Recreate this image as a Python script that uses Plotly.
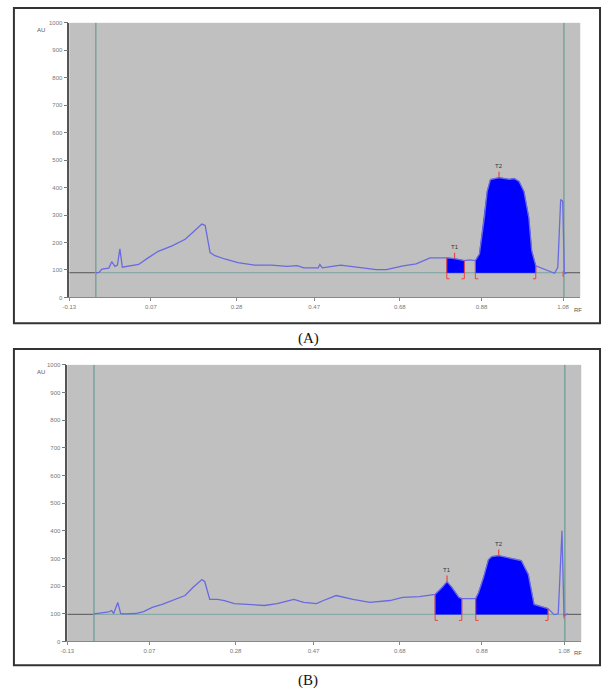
import plotly.graph_objects as go

W, H = 602, 696

# ---------------- data ----------------
# Panel A densitogram
rf_a = [-0.065, -0.057, -0.050, -0.040, -0.033, -0.026, -0.018, -0.012, -0.006, 0.000,
        0.008, 0.040, 0.064, 0.088, 0.122, 0.154, 0.171, 0.185, 0.195, 0.203,
        0.210, 0.215, 0.227, 0.251, 0.283, 0.324, 0.365, 0.404, 0.428, 0.445,
        0.480, 0.484, 0.490, 0.535, 0.574, 0.622, 0.647, 0.688, 0.720, 0.754,
        0.795, 0.814, 0.838, 0.851, 0.865, 0.875, 0.887, 0.894, 0.902, 0.923,
        0.948, 0.960, 0.972, 0.984, 0.996, 1.003, 1.013, 1.045, 1.059, 1.067,
        1.074, 1.079, 1.083, 1.090]
au_a = [90, 91, 103, 105, 107, 130, 113, 118, 177, 110,
        112, 120, 145, 168, 188, 212, 235, 255, 267, 262,
        200, 163, 152, 140, 127, 118, 118, 113, 116, 108,
        108, 120, 108, 118, 110, 101, 101, 115, 122, 144,
        144, 141, 134, 137, 134, 158, 290, 386, 429, 436,
        430, 433, 422, 386, 290, 170, 115, 97, 88, 110,
        357, 350, 87, 90]
base_a = 90
peaks_a = {"T1": (0.795, 0.838, 0.814), "T2": (0.865, 1.013, 0.923)}

# Panel B densitogram
rf_b = [-0.065, -0.055, -0.043, -0.029, -0.022, -0.017, -0.007, 0.000, 0.010, 0.036,
        0.056, 0.077, 0.101, 0.125, 0.157, 0.176, 0.198, 0.205, 0.217, 0.236,
        0.253, 0.277, 0.309, 0.350, 0.381, 0.422, 0.446, 0.477, 0.494, 0.525,
        0.566, 0.607, 0.656, 0.687, 0.728, 0.766, 0.783, 0.795, 0.807, 0.824,
        0.831, 0.865, 0.872, 0.884, 0.896, 0.904, 0.921, 0.952, 0.976, 0.993,
        1.000, 1.007, 1.041, 1.056, 1.066, 1.075, 1.080, 1.090]
au_b = [100, 102, 105, 107, 112, 101, 141, 101, 100, 101,
        108, 123, 134, 148, 166, 195, 224, 216, 152, 152,
        148, 137, 134, 130, 137, 152, 141, 137, 148, 166,
        152, 141, 148, 159, 162, 170, 195, 216, 195, 159,
        155, 155, 177, 231, 296, 307, 310, 300, 292, 242,
        188, 134, 119, 97, 100, 400, 94, 100]
base_b = 98
peaks_b = {"T1": (0.766, 0.831, 0.795), "T2": (0.865, 1.041, 0.921)}

x_ticks = [-0.13, 0.07, 0.28, 0.47, 0.68, 0.88, 1.08]
x_ticktext = ["-0.13", "0.07", "0.28", "0.47", "0.68", "0.88", "1.08"]
y_ticks = [0, 100, 200, 300, 400, 500, 600, 700, 800, 900, 1000]
start_line = -0.065
front_line = 1.082
x_range = [-0.13, 1.122]

# ---------------- style ----------------
CURVE = "rgb(105,105,225)"
FILL = "#0000FF"
TEAL = "rgb(125,165,158)"
RED = "rgb(235,70,60)"
TICKC = "#777777"

fig = go.Figure()

def px2paper_x(px):
    return px / W

def px2paper_y(py):
    return 1 - py / H

panels = [
    dict(rf=rf_a, au=au_a, base=base_a, peaks=peaks_a, xa="x", ya="y",
         xd=[63 / W, 580 / W], yd=[1 - 297 / H, 1 - 20 / H]),
    dict(rf=rf_b, au=au_b, base=base_b, peaks=peaks_b, xa="x2", ya="y2",
         xd=[61 / W, 581 / W], yd=[1 - 644 / H, 1 - 365 / H]),
]

shapes = []
annotations = []

for i, p in enumerate(panels):
    xa, ya = p["xa"], p["ya"]
    rf, au, base = p["rf"], p["au"], p["base"]
    # baseline: dark outside, teal between start and front
    fig.add_trace(go.Scatter(x=[x_range[0], start_line], y=[base, base], mode="lines",
                             line=dict(color="#555555", width=1), xaxis=xa, yaxis=ya,
                             showlegend=False, hoverinfo="skip"))
    fig.add_trace(go.Scatter(x=[start_line, front_line], y=[base, base], mode="lines",
                             line=dict(color=TEAL, width=1), xaxis=xa, yaxis=ya,
                             showlegend=False, hoverinfo="skip"))
    fig.add_trace(go.Scatter(x=[front_line, x_range[1]], y=[base, base], mode="lines",
                             line=dict(color="#555555", width=1), xaxis=xa, yaxis=ya,
                             showlegend=False, hoverinfo="skip"))
    # vertical lines (application / front)
    for xv in (start_line, front_line):
        fig.add_trace(go.Scatter(x=[xv, xv], y=[0, 1000], mode="lines",
                                 line=dict(color=TEAL, width=1.6), xaxis=xa, yaxis=ya,
                                 showlegend=False, hoverinfo="skip"))
    # filled peaks
    for name, (x0, x1, xp) in p["peaks"].items():
        xs = [x for x in rf if x0 - 1e-9 <= x <= x1 + 1e-9]
        ys = [au[rf.index(x)] for x in xs]
        fig.add_trace(go.Scatter(x=[x0] + xs + [x1, x0], y=[base] + ys + [base, base],
                                 mode="lines", fill="toself", fillcolor=FILL,
                                 line=dict(color=FILL, width=0.5), xaxis=xa, yaxis=ya,
                                 showlegend=False, hoverinfo="skip"))
    # curve
    fig.add_trace(go.Scatter(x=rf, y=au, mode="lines", line=dict(color=CURVE, width=1.3),
                             xaxis=xa, yaxis=ya, showlegend=False))
    # peak markers
    for name, (x0, x1, xp) in p["peaks"].items():
        ytop = au[rf.index(xp)]
        low = base - 22
        for xb, d in ((x0, 0.007), (x1, -0.007)):
            yb = au[rf.index(xb)]
            fig.add_trace(go.Scatter(x=[xb + d, xb, xb], y=[low, low, yb], mode="lines",
                                     line=dict(color=RED, width=1), xaxis=xa, yaxis=ya,
                                     showlegend=False, hoverinfo="skip"))
        fig.add_trace(go.Scatter(x=[xp, xp], y=[ytop + 2, ytop + 22], mode="lines",
                                 line=dict(color=RED, width=1.2), xaxis=xa, yaxis=ya,
                                 showlegend=False, hoverinfo="skip"))
        annotations.append(dict(x=xp, y=ytop + 26, xref=xa, yref=ya, text=name,
                                showarrow=False, yanchor="bottom", xanchor="center",
                                font=dict(size=6, color="#333333", family="Arial")))
    # front red mark at baseline
    fig.add_trace(go.Scatter(x=[front_line - 0.002, front_line - 0.002], y=[base - 15, base + 5],
                             mode="lines", line=dict(color=RED, width=1), xaxis=xa, yaxis=ya,
                             showlegend=False, hoverinfo="skip"))

# outer frames
for (y0, y1) in ((5, 323), (349, 668)):
    shapes.append(dict(type="rect", xref="paper", yref="paper",
                       x0=px2paper_x(7), x1=px2paper_x(600),
                       y0=px2paper_y(y1), y1=px2paper_y(y0),
                       line=dict(color="#333333", width=2), fillcolor="rgba(0,0,0,0)",
                       layer="below"))

# AU / RF labels
for (axy, rfy) in ((27, 310), (372, 656)):
    annotations.append(dict(x=px2paper_x(34), y=px2paper_y(axy), xref="paper", yref="paper",
                            text="AU", showarrow=False, xanchor="center", yanchor="middle",
                            font=dict(size=6, color="#555555", family="Arial")))
    annotations.append(dict(x=px2paper_x(578), y=px2paper_y(rfy), xref="paper", yref="paper",
                            text="RF", showarrow=False, xanchor="center", yanchor="middle",
                            font=dict(size=6, color="#555555", family="Arial")))

# captions
for txt, cy in (("(A)", 338), ("(B)", 683)):
    annotations.append(dict(x=px2paper_x(305), y=px2paper_y(cy), xref="paper", yref="paper",
                            text=txt, showarrow=False, xanchor="center", yanchor="middle",
                            font=dict(size=15, color="#111111", family="Liberation Serif")))

axis_common_x = dict(range=x_range, tickmode="array", tickvals=x_ticks, ticktext=x_ticktext,
                     showgrid=False, zeroline=False, showline=True, linecolor="#888888",
                     ticks="outside", ticklen=3, tickcolor="#888888",
                     tickfont=dict(size=6, color=TICKC, family="Arial"))
axis_common_y = dict(range=[0, 1000], tickmode="array", tickvals=y_ticks,
                     showgrid=False, zeroline=False, showline=True, linecolor="#555555",
                     linewidth=1.5, ticks="outside", ticklen=4, tickcolor="#777777",
                     tickfont=dict(size=6, color=TICKC, family="Arial"))

fig.update_layout(
    width=W, height=H, margin=dict(l=0, r=0, t=0, b=0),
    paper_bgcolor="white", plot_bgcolor="#C0C0C0",
    xaxis=dict(domain=panels[0]["xd"], anchor="y", **axis_common_x),
    yaxis=dict(domain=panels[0]["yd"], anchor="x", **axis_common_y),
    xaxis2=dict(domain=panels[1]["xd"], anchor="y2", **axis_common_x),
    yaxis2=dict(domain=panels[1]["yd"], anchor="x2", **axis_common_y),
    shapes=shapes, annotations=annotations, showlegend=False,
)

fig.write_html("out.html")
